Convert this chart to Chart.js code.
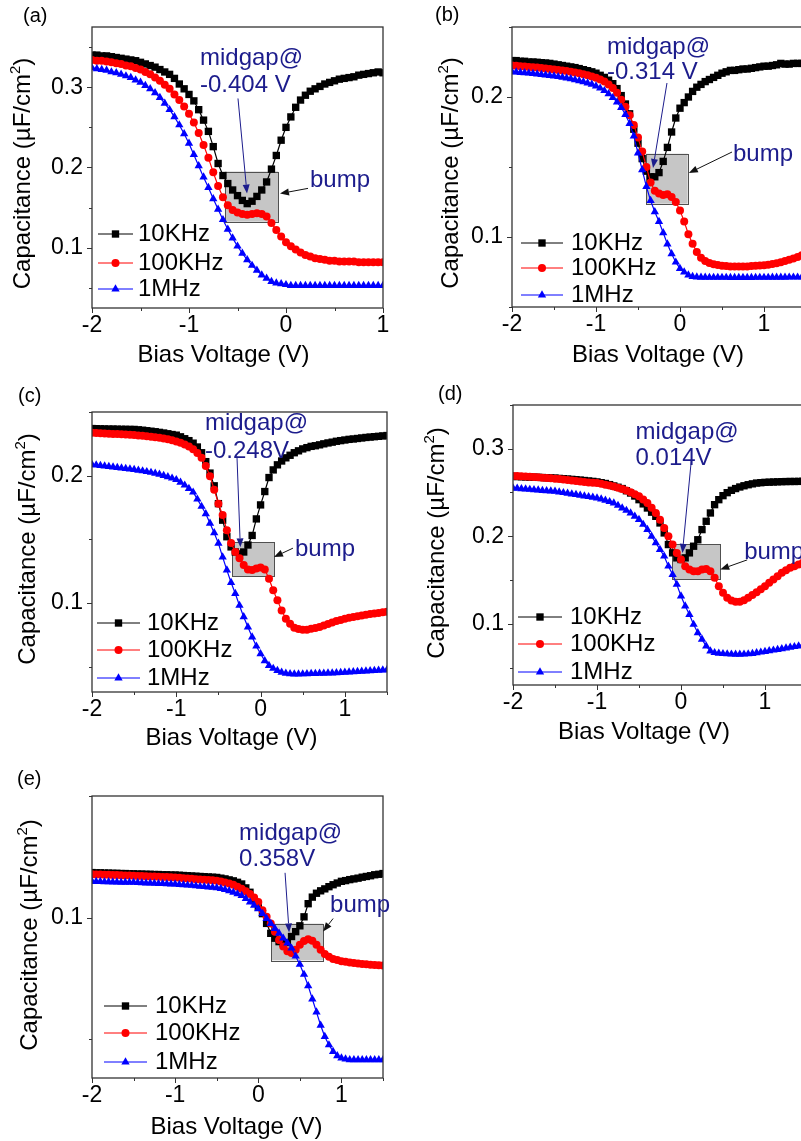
<!DOCTYPE html>
<html>
<head>
<meta charset="utf-8">
<script src="https://cdn.jsdelivr.net/npm/chart.js@4/dist/chart.umd.min.js"></script>
<style>
html, body { margin: 0; padding: 0; background: #fff; overflow: hidden; }
#page { position: relative; width: 801px; height: 1141px; overflow: hidden; background: #fff; }
#page canvas { position: absolute; }
</style>
</head>
<body>
<div id="page"></div>
<script>
// bias voltage grids (V)
const voltsA = [-2,-1.95,-1.9,-1.85,-1.8,-1.75,-1.7,-1.65,-1.6,-1.55,
  -1.5,-1.45,-1.4,-1.35,-1.3,-1.25,-1.2,-1.15,-1.1,-1.05,
  -1,-0.95,-0.9,-0.85,-0.8,-0.75,-0.7,-0.65,-0.6,-0.55,
  -0.5,-0.45,-0.4,-0.35,-0.3,-0.25,-0.2,-0.15,-0.1,-0.05,
  0,0.05,0.1,0.15,0.2,0.25,0.3,0.35,0.4,0.45,
  0.5,0.55,0.6,0.65,0.7,0.75,0.8,0.85,0.9,0.95,
  1]
const voltsB = [-2,-1.95,-1.9,-1.85,-1.8,-1.75,-1.7,-1.65,-1.6,-1.55,
  -1.5,-1.45,-1.4,-1.35,-1.3,-1.25,-1.2,-1.15,-1.1,-1.05,
  -1,-0.95,-0.9,-0.85,-0.8,-0.75,-0.7,-0.65,-0.6,-0.55,
  -0.5,-0.45,-0.4,-0.35,-0.3,-0.25,-0.2,-0.15,-0.1,-0.05,
  0,0.05,0.1,0.15,0.2,0.25,0.3,0.35,0.4,0.45,
  0.5,0.55,0.6,0.65,0.7,0.75,0.8,0.85,0.9,0.95,
  1,1.05,1.1,1.15,1.2,1.25,1.3,1.35,1.4,1.45,
  1.5]

const seriesNames = ['10KHz', '100KHz', '1MHz']

// capacitance (uF/cm2), panel (a)
const capA10k = [0.340,0.340,0.339,0.339,0.338,0.337,0.336,0.335,0.334,0.333,
  0.331,0.329,0.327,0.325,0.322,0.319,0.316,0.311,0.304,0.298,
  0.291,0.283,0.272,0.259,0.245,0.226,0.205,0.190,0.180,0.172,
  0.165,0.159,0.155,0.158,0.164,0.172,0.182,0.198,0.215,0.234,
  0.250,0.263,0.275,0.284,0.290,0.295,0.298,0.301,0.304,0.306,
  0.308,0.310,0.311,0.312,0.313,0.315,0.316,0.317,0.318,0.319,
  0.318]
const capA100k = [0.334,0.333,0.333,0.332,0.331,0.330,0.329,0.327,0.326,0.324,
  0.322,0.319,0.316,0.312,0.308,0.303,0.298,0.291,0.284,0.276,
  0.267,0.256,0.243,0.228,0.212,0.194,0.177,0.163,0.153,0.147,
  0.144,0.142,0.141,0.142,0.143,0.142,0.139,0.131,0.122,0.114,
  0.107,0.102,0.098,0.094,0.091,0.089,0.087,0.086,0.085,0.084,
  0.084,0.083,0.083,0.083,0.083,0.082,0.082,0.082,0.082,0.082,
  0.082]
const capA1M = [0.324,0.323,0.322,0.321,0.319,0.318,0.316,0.314,0.312,0.309,
  0.306,0.302,0.298,0.293,0.287,0.280,0.272,0.263,0.253,0.242,
  0.230,0.216,0.202,0.188,0.175,0.161,0.148,0.135,0.123,0.112,
  0.102,0.093,0.085,0.078,0.072,0.066,0.062,0.058,0.056,0.055,
  0.054,0.053,0.053,0.053,0.053,0.053,0.053,0.053,0.053,0.053,
  0.053,0.053,0.053,0.053,0.053,0.053,0.053,0.053,0.053,0.053,
  0.053]

// panel (b)
const capB10k = [0.2260,0.2260,0.2255,0.2255,0.2250,0.2250,0.2248,0.2245,0.2243,0.2240,
  0.2235,0.2230,0.2225,0.2220,0.2215,0.2210,0.2203,0.2195,0.2188,0.2180,
  0.2170,0.2155,0.2140,0.2120,0.2095,0.2060,0.2010,0.1950,0.1880,0.1770,
  0.1670,0.1560,0.1470,0.1430,0.1430,0.1460,0.1540,0.1640,0.1750,0.1850,
  0.1920,0.1960,0.2000,0.2040,0.2070,0.2090,0.2110,0.2125,0.2140,0.2155,
  0.2170,0.2180,0.2190,0.2190,0.2195,0.2200,0.2200,0.2205,0.2210,0.2215,
  0.2220,0.2220,0.2225,0.2230,0.2240,0.2235,0.2235,0.2240,0.2240,0.2240,
  0.2242]
const capB100k = [0.2225,0.2223,0.2220,0.2218,0.2215,0.2212,0.2210,0.2207,0.2203,0.2200,
  0.2197,0.2193,0.2190,0.2185,0.2180,0.2175,0.2170,0.2163,0.2155,0.2147,
  0.2138,0.2125,0.2110,0.2090,0.2065,0.2030,0.1980,0.1930,0.1870,0.1800,
  0.1710,0.1610,0.1500,0.1390,0.1330,0.1310,0.1300,0.1305,0.1285,0.1250,
  0.1190,0.1110,0.1020,0.0952,0.0893,0.0852,0.0829,0.0815,0.0805,0.0800,
  0.0795,0.0792,0.0790,0.0790,0.0790,0.0790,0.0790,0.0792,0.0794,0.0796,
  0.0798,0.0802,0.0807,0.0813,0.0820,0.0828,0.0837,0.0847,0.0858,0.0870,
  0.0883]
const capB1M = [0.2180,0.2178,0.2175,0.2172,0.2170,0.2167,0.2164,0.2160,0.2157,0.2153,
  0.2150,0.2145,0.2140,0.2135,0.2130,0.2123,0.2116,0.2108,0.2100,0.2090,
  0.2078,0.2063,0.2045,0.2022,0.1995,0.1963,0.1925,0.1875,0.1810,0.1720,
  0.1600,0.1480,0.1360,0.1260,0.1180,0.1110,0.1030,0.0950,0.0880,0.0820,
  0.0775,0.0750,0.0728,0.0718,0.0714,0.0712,0.0712,0.0711,0.0711,0.0711,
  0.0711,0.0711,0.0710,0.0710,0.0710,0.0710,0.0710,0.0710,0.0711,0.0711,
  0.0711,0.0711,0.0712,0.0712,0.0712,0.0712,0.0713,0.0713,0.0713,0.0714,
  0.0714]

// panel (c)
const capC10k = [0.2370,0.2369,0.2368,0.2367,0.2366,0.2366,0.2365,0.2364,0.2364,0.2363,
  0.2363,0.2360,0.2357,0.2353,0.2349,0.2345,0.2340,0.2335,0.2329,0.2323,
  0.2318,0.2305,0.2290,0.2275,0.2255,0.2225,0.2180,0.2110,0.2020,0.1920,
  0.1780,0.1650,0.1520,0.1440,0.1400,0.1385,0.1400,0.1455,0.1530,0.1660,
  0.1770,0.1875,0.1985,0.2045,0.2085,0.2115,0.2140,0.2160,0.2180,0.2195,
  0.2210,0.2220,0.2230,0.2235,0.2242,0.2250,0.2257,0.2263,0.2270,0.2275,
  0.2280,0.2285,0.2288,0.2292,0.2296,0.2300,0.2303,0.2306,0.2309,0.2312,
  0.2315]
const capC100k = [0.2337,0.2335,0.2333,0.2331,0.2330,0.2328,0.2327,0.2325,0.2323,0.2321,
  0.2319,0.2316,0.2313,0.2310,0.2306,0.2302,0.2297,0.2292,0.2286,0.2278,
  0.2269,0.2258,0.2245,0.2228,0.2208,0.2178,0.2140,0.2075,0.1995,0.1890,
  0.1780,0.1690,0.1570,0.1470,0.1400,0.1350,0.1297,0.1263,0.1258,0.1270,
  0.1279,0.1263,0.1190,0.1100,0.1020,0.0940,0.0876,0.0837,0.0805,0.0795,
  0.0790,0.0789,0.0797,0.0802,0.0810,0.0822,0.0835,0.0846,0.0857,0.0866,
  0.0875,0.0883,0.0890,0.0896,0.0902,0.0907,0.0912,0.0917,0.0921,0.0926,
  0.0930]
const capC1M = [0.2087,0.2083,0.2079,0.2075,0.2071,0.2067,0.2063,0.2059,0.2055,0.2051,
  0.2047,0.2042,0.2037,0.2031,0.2025,0.2018,0.2010,0.2001,0.1991,0.1980,
  0.1968,0.1948,0.1925,0.1898,0.1870,0.1815,0.1758,0.1700,0.1626,0.1550,
  0.1468,0.1360,0.1258,0.1160,0.1074,0.0980,0.0890,0.0810,0.0732,0.0660,
  0.0600,0.0545,0.0508,0.0485,0.0468,0.0455,0.0447,0.0443,0.0441,0.0441,
  0.0442,0.0443,0.0444,0.0445,0.0446,0.0447,0.0448,0.0449,0.0451,0.0452,
  0.0454,0.0456,0.0458,0.0460,0.0462,0.0464,0.0466,0.0468,0.0470,0.0472,
  0.0474]

// panel (d)
const capD10k = [0.2684,0.2682,0.2680,0.2678,0.2676,0.2675,0.2673,0.2671,0.2669,0.2667,
  0.2665,0.2661,0.2658,0.2654,0.2650,0.2646,0.2642,0.2637,0.2632,0.2627,
  0.2621,0.2612,0.2603,0.2590,0.2575,0.2560,0.2545,0.2520,0.2494,0.2460,
  0.2418,0.2370,0.2323,0.2275,0.2228,0.2152,0.2038,0.1905,0.1810,0.1753,
  0.1734,0.1753,0.1810,0.1886,0.1960,0.2076,0.2171,0.2266,0.2361,0.2418,
  0.2464,0.2498,0.2525,0.2545,0.2563,0.2577,0.2589,0.2599,0.2608,0.2612,
  0.2616,0.2618,0.2620,0.2622,0.2624,0.2625,0.2626,0.2626,0.2627,0.2628,
  0.2629]
const capD100k = [0.2690,0.2688,0.2685,0.2682,0.2680,0.2677,0.2674,0.2670,0.2666,0.2662,
  0.2658,0.2653,0.2648,0.2643,0.2637,0.2632,0.2626,0.2620,0.2615,0.2611,
  0.2608,0.2600,0.2590,0.2580,0.2568,0.2555,0.2540,0.2522,0.2502,0.2480,
  0.2456,0.2420,0.2380,0.2325,0.2266,0.2190,0.2095,0.2000,0.1905,0.1810,
  0.1734,0.1658,0.1620,0.1600,0.1600,0.1620,0.1627,0.1600,0.1525,0.1430,
  0.1354,0.1297,0.1266,0.1251,0.1251,0.1270,0.1297,0.1329,0.1361,0.1395,
  0.1430,0.1468,0.1506,0.1544,0.1582,0.1611,0.1639,0.1658,0.1677,0.1696,
  0.1715]
const capD1M = [0.2551,0.2547,0.2543,0.2539,0.2535,0.2531,0.2527,0.2523,0.2519,0.2516,
  0.2513,0.2506,0.2498,0.2491,0.2483,0.2476,0.2468,0.2460,0.2452,0.2445,
  0.2437,0.2424,0.2410,0.2395,0.2380,0.2352,0.2323,0.2295,0.2266,0.2228,
  0.2190,0.2135,0.2076,0.2000,0.1924,0.1848,0.1772,0.1658,0.1563,0.1449,
  0.1316,0.1202,0.1106,0.0992,0.0897,0.0821,0.0745,0.0688,0.0669,0.0662,
  0.0658,0.0655,0.0652,0.0650,0.0650,0.0652,0.0655,0.0660,0.0667,0.0675,
  0.0683,0.0690,0.0698,0.0706,0.0714,0.0722,0.0730,0.0738,0.0746,0.0754,
  0.0762]

// panel (e)
const capE10k = [0.1185,0.1184,0.1184,0.1183,0.1183,0.1182,0.1182,0.1181,0.1181,0.1180,
  0.1180,0.1179,0.1179,0.1178,0.1178,0.1177,0.1177,0.1176,0.1176,0.1175,
  0.1175,0.1174,0.1173,0.1172,0.1171,0.1170,0.1169,0.1168,0.1167,0.1166,
  0.1165,0.1162,0.1159,0.1155,0.1151,0.1145,0.1138,0.1122,0.1104,0.1070,
  0.1043,0.1016,0.0976,0.0935,0.0915,0.0901,0.0895,0.0897,0.0922,0.0942,
  0.0966,0.1003,0.1057,0.1084,0.1100,0.1110,0.1118,0.1127,0.1135,0.1142,
  0.1149,0.1152,0.1156,0.1159,0.1162,0.1166,0.1169,0.1172,0.1176,0.1178,
  0.1181]
const capE100k = [0.1178,0.1177,0.1177,0.1176,0.1176,0.1175,0.1175,0.1174,0.1173,0.1173,
  0.1172,0.1171,0.1171,0.1170,0.1169,0.1169,0.1168,0.1167,0.1167,0.1166,
  0.1165,0.1164,0.1162,0.1161,0.1160,0.1158,0.1157,0.1156,0.1154,0.1153,
  0.1151,0.1148,0.1144,0.1140,0.1135,0.1127,0.1118,0.1108,0.1097,0.1082,
  0.1064,0.1030,0.1003,0.0976,0.0942,0.0908,0.0881,0.0861,0.0854,0.0868,
  0.0888,0.0904,0.0911,0.0905,0.0888,0.0868,0.0850,0.0839,0.0830,0.0825,
  0.0820,0.0818,0.0815,0.0813,0.0811,0.0809,0.0808,0.0806,0.0805,0.0804,
  0.0803]
const capE1M = [0.1149,0.1148,0.1148,0.1147,0.1147,0.1146,0.1146,0.1145,0.1145,0.1145,
  0.1145,0.1144,0.1143,0.1142,0.1142,0.1141,0.1140,0.1140,0.1139,0.1138,
  0.1138,0.1136,0.1135,0.1133,0.1132,0.1130,0.1128,0.1127,0.1125,0.1124,
  0.1122,0.1119,0.1115,0.1110,0.1104,0.1097,0.1090,0.1078,0.1064,0.1050,
  0.1036,0.1016,0.0996,0.0975,0.0955,0.0935,0.0915,0.0895,0.0874,0.0841,
  0.0807,0.0766,0.0719,0.0665,0.0611,0.0557,0.0510,0.0476,0.0449,0.0431,
  0.0422,0.0418,0.0415,0.0415,0.0415,0.0415,0.0415,0.0415,0.0415,0.0415,
  0.0415]

// tick labels
const xTickVals = [-2, -1, 0, 1]
const yTicksA = [0.1, 0.2, 0.3]
const yTicksB = [0.1, 0.2]
const yTicksC = [0.1, 0.2]
const yTicksD = [0.1, 0.2, 0.3]
const yTicksE = [0.1]

const midgapLabels = ['-0.404 V', '-0.314 V', '-0.248V', '0.014V', '0.358V']
const panelLetters = ['(a)', '(b)', '(c)', '(d)', '(e)']

const FONT = "'Liberation Sans', Arial, sans-serif"
const NAVY = '#1c1c8c'
const colors = ['#000000', '#ff0000', '#0000ff']
const marks = ['rect', 'circle', 'triangle']
const markRadius = [5.2, 4, 4.8]

Chart.defaults.font.family = FONT

// layout of each panel: canvas box + plot area in page pixels
const panels = [
  { left: 0, top: 0, w: 400, h: 370, area: [92, 27, 383, 308],
    xMin: -2, xMax: 1, yMin: 0.025, yMax: 0.375, volts: voltsA,
    caps: [capA10k, capA100k, capA1M], yTicks: yTicksA,
    box: [-0.63, -0.08, 0.1325, 0.195],
    note: [-0.887, 0.336, 0.3025], midArrow: [-0.495, 0.286, -0.402, 0.1675],
    bump: [0.247, 0.184], bumpArrow: [0.227, 0.174, -0.062, 0.1675],
    legend: { dx: 6, len: 35, gap: 5, rows: [-74, -45, -19] },
    yTitle: [-69, 6], xTitle: [-14, 47], letter: [23, 16] },
  { left: 400, top: 0, w: 420, h: 370, area: [512, 27, 806, 307],
    xMin: -2, xMax: 1.5, yMin: 0.05, yMax: 0.25, volts: voltsB,
    caps: [capB10k, capB100k, capB1M], yTicks: yTicksB,
    box: [-0.405, 0.091, 0.1238, 0.1595],
    note: [-0.869, 0.2357, 0.2179], midArrow: [-0.155, 0.21, -0.321, 0.1493],
    bump: [0.631, 0.1593], bumpArrow: [0.619, 0.1607, 0.105, 0.1457],
    legend: { dx: 9, len: 42, gap: 8, rows: [-64, -39, -12] },
    yTitle: [-61, 6], xTitle: [-1, 48], letter: [435, 15] },
  { left: 0, top: 370, w: 400, h: 390, area: [92, 412, 387, 692],
    xMin: -2, xMax: 1.5, yMin: 0.03, yMax: 0.25, volts: voltsB,
    caps: [capC10k, capC100k, capC1M], yTicks: yTicksC,
    box: [-0.339, 0.159, 0.1209, 0.1476],
    note: [-0.66, 0.241, 0.219], midArrow: [-0.28, 0.215, -0.24, 0.1437],
    bump: [0.408, 0.142], bumpArrow: [0.384, 0.143, 0.159, 0.136],
    legend: { dx: 5, len: 43, gap: 7, rows: [-69, -42, -14] },
    yTitle: [-64, -3], xTitle: [-8, 46], letter: [18, 396] },
  { left: 400, top: 370, w: 420, h: 390, area: [513, 405, 807, 685],
    xMin: -2, xMax: 1.5, yMin: 0.03, yMax: 0.35, volts: voltsB,
    caps: [capD10k, capD100k, capD1M], yTicks: yTicksD,
    box: [-0.102, 0.467, 0.151, 0.191],
    note: [-0.541, 0.319, 0.289], midArrow: [0.123, 0.287, 0.017, 0.181],
    bump: [0.752, 0.182], bumpArrow: [0.788, 0.173, 0.467, 0.162],
    legend: { dx: 5, len: 44, gap: 8, rows: [-68, -41, -13] },
    yTitle: [-76, -2], xTitle: [-16, 47], letter: [438, 394] },
  { left: 0, top: 760, w: 400, h: 381, area: [92, 796, 383, 1078],
    xMin: -2, xMax: 1.5, yMin: 0.034, yMax: 0.15, volts: voltsB,
    caps: [capE10k, capE100k, capE1M], yTicks: yTicksE,
    box: [0.154, 0.78, 0.0824, 0.0975],
    note: [-0.231, 0.1348, 0.1238], midArrow: [0.322, 0.1184, 0.371, 0.0939],
    bump: [0.864, 0.105], bumpArrow: [0.9, 0.0996, 0.78, 0.0943],
    legend: { dx: 12, len: 43, gap: 8, rows: [-72, -45, -16] },
    yTitle: [-62, -2], xTitle: [-1, 49], letter: [17, 779] }
]

function arrow(ctx, x1, y1, x2, y2, color) {
  const ang = Math.atan2(y2 - y1, x2 - x1)
  const hl = 9, hw = 3.5
  const bx = x2 - hl * Math.cos(ang), by = y2 - hl * Math.sin(ang)
  ctx.strokeStyle = color
  ctx.fillStyle = color
  ctx.lineWidth = 1
  ctx.beginPath()
  ctx.moveTo(x1, y1)
  ctx.lineTo(bx, by)
  ctx.stroke()
  ctx.beginPath()
  ctx.moveTo(x2, y2)
  ctx.lineTo(bx + hw * Math.sin(ang), by - hw * Math.cos(ang))
  ctx.lineTo(bx - hw * Math.sin(ang), by + hw * Math.cos(ang))
  ctx.closePath()
  ctx.fill()
}

function yTitle(ctx, cx, cy) {
  const main = 'Capacitance (\u00b5F/cm', sup = '2', tail = ')'
  ctx.save()
  ctx.translate(cx, cy)
  ctx.rotate(-Math.PI / 2)
  ctx.font = '24px ' + FONT
  const w1 = ctx.measureText(main).width
  const w3 = ctx.measureText(tail).width
  ctx.font = '15px ' + FONT
  const w2 = ctx.measureText(sup).width
  const x0 = -(w1 + w2 + w3) / 2
  ctx.fillStyle = '#000'
  ctx.textAlign = 'left'
  ctx.textBaseline = 'middle'
  ctx.font = '24px ' + FONT
  ctx.fillText(main, x0, 0)
  ctx.font = '15px ' + FONT
  ctx.fillText(sup, x0 + w1, -7)
  ctx.font = '24px ' + FONT
  ctx.fillText(tail, x0 + w1 + w2, 0)
  ctx.restore()
}

function decor(p, idx) {
  return {
    id: 'decor' + idx,
    beforeDatasetsDraw(chart) {
      const { ctx, scales: { x, y } } = chart
      const l = x.getPixelForValue(p.box[0]), r = x.getPixelForValue(p.box[1])
      const t = y.getPixelForValue(p.box[3]), b = y.getPixelForValue(p.box[2])
      ctx.save()
      ctx.fillStyle = '#c6c6c6'
      ctx.fillRect(l, t, r - l, b - t)
      ctx.strokeStyle = '#505050'
      ctx.lineWidth = 1
      ctx.strokeRect(Math.round(l) + 0.5, Math.round(t) + 0.5, Math.round(r - l), Math.round(b - t))
      ctx.restore()
    },
    afterDatasetsDraw(chart) {
      const { ctx, chartArea: a, scales: { x, y } } = chart
      ctx.save()
      // frame
      ctx.strokeStyle = '#333'
      ctx.lineWidth = 1.3
      ctx.strokeRect(a.left, a.top, a.right - a.left, a.bottom - a.top)
      // outward ticks, minor at half steps
      ctx.lineWidth = 1
      ctx.beginPath()
      for (let v = p.xMin; v <= p.xMax + 1e-9; v += 0.5) {
        const px = Math.round(x.getPixelForValue(v)) + 0.5
        const major = Math.abs(v - Math.round(v)) < 1e-9
        ctx.moveTo(px, a.bottom)
        ctx.lineTo(px, a.bottom + (major ? 5 : 3))
      }
      for (let k = Math.ceil(p.yMin / 0.05 - 1e-9); k * 0.05 <= p.yMax + 1e-9; k++) {
        const py = Math.round(y.getPixelForValue(k * 0.05)) + 0.5
        ctx.moveTo(a.left, py)
        ctx.lineTo(a.left - (k % 2 === 0 ? 5 : 3), py)
      }
      ctx.stroke()

      // annotations
      const m = p.midArrow
      arrow(ctx, x.getPixelForValue(m[0]), y.getPixelForValue(m[1]),
        x.getPixelForValue(m[2]), y.getPixelForValue(m[3]), NAVY)
      const ba = p.bumpArrow
      arrow(ctx, x.getPixelForValue(ba[0]), y.getPixelForValue(ba[1]),
        x.getPixelForValue(ba[2]), y.getPixelForValue(ba[3]), '#111')
      ctx.fillStyle = NAVY
      ctx.font = '24px ' + FONT
      ctx.textAlign = 'left'
      ctx.textBaseline = 'middle'
      const nx = x.getPixelForValue(p.note[0])
      ctx.fillText('midgap@', nx, y.getPixelForValue(p.note[1]))
      ctx.fillText(midgapLabels[idx], nx, y.getPixelForValue(p.note[2]))
      ctx.fillText('bump', x.getPixelForValue(p.bump[0]), y.getPixelForValue(p.bump[1]))

      // legend
      const lg = p.legend
      seriesNames.forEach((name, i) => {
        const ly = a.bottom + lg.rows[i]
        const lx = a.left + lg.dx
        ctx.strokeStyle = colors[i]
        ctx.lineWidth = 1
        ctx.beginPath()
        ctx.moveTo(lx, ly)
        ctx.lineTo(lx + lg.len, ly)
        ctx.stroke()
        ctx.fillStyle = colors[i]
        Chart.helpers.drawPoint(ctx, { pointStyle: marks[i], radius: markRadius[i], rotation: 0, borderWidth: 0 },
          lx + lg.len / 2, ly)
        ctx.fillStyle = '#000'
        ctx.font = '24px ' + FONT
        ctx.textAlign = 'left'
        ctx.textBaseline = 'middle'
        ctx.fillText(name, lx + lg.len + lg.gap, ly)
      })

      // axis titles and panel letter
      yTitle(ctx, a.left + p.yTitle[0], (a.top + a.bottom) / 2 + p.yTitle[1])
      ctx.fillStyle = '#000'
      ctx.font = '24px ' + FONT
      ctx.textAlign = 'center'
      ctx.textBaseline = 'middle'
      ctx.fillText('Bias Voltage (V)', (a.left + a.right) / 2 + p.xTitle[0], a.bottom + p.xTitle[1])
      ctx.font = '20px ' + FONT
      ctx.textAlign = 'left'
      ctx.fillText(panelLetters[idx], p.letter[0] - p.left, p.letter[1] - p.top)
      ctx.restore()
    }
  }
}

const page = document.getElementById('page')

panels.forEach((p, idx) => {
  const cv = document.createElement('canvas')
  cv.width = p.w
  cv.height = p.h
  cv.style.left = p.left + 'px'
  cv.style.top = p.top + 'px'
  cv.style.width = p.w + 'px'
  cv.style.height = p.h + 'px'
  page.appendChild(cv)

  const l = p.area[0] - p.left, t = p.area[1] - p.top
  const r = p.area[2] - p.left, b = p.area[3] - p.top

  new Chart(cv, {
    type: 'line',
    data: {
      datasets: seriesNames.map((name, i) => ({
        label: name,
        data: p.volts.map((v, k) => ({ x: v, y: p.caps[i][k] })),
        borderColor: colors[i],
        backgroundColor: colors[i],
        borderWidth: 1.2,
        pointStyle: marks[i],
        pointRadius: markRadius[i],
        pointBorderWidth: 0,
        pointBackgroundColor: colors[i],
        tension: 0,
        order: 2 - i
      }))
    },
    options: {
      responsive: false,
      animation: false,
      devicePixelRatio: 1,
      events: [],
      layout: { padding: { top: t, right: p.w - r, left: 0, bottom: 0 } },
      plugins: { legend: { display: false }, tooltip: { enabled: false } },
      scales: {
        x: {
          type: 'linear', min: p.xMin, max: p.xMax,
          grid: { display: false, drawTicks: false },
          border: { display: false },
          afterFit: s => { s.height = p.h - b },
          afterBuildTicks: s => { s.ticks = xTickVals.map(v => ({ value: v })) },
          ticks: { autoSkip: false, maxRotation: 0, padding: 4, color: '#000',
            font: { size: 23 }, callback: v => String(v) }
        },
        y: {
          type: 'linear', min: p.yMin, max: p.yMax,
          grid: { display: false, drawTicks: false },
          border: { display: false },
          afterFit: s => { s.width = l },
          afterBuildTicks: s => { s.ticks = p.yTicks.map(v => ({ value: v })) },
          ticks: { autoSkip: false, padding: 9, color: '#000',
            font: { size: 23 }, callback: v => v.toFixed(1) }
        }
      }
    },
    plugins: [decor(p, idx)]
  })
})
</script>
</body>
</html>
